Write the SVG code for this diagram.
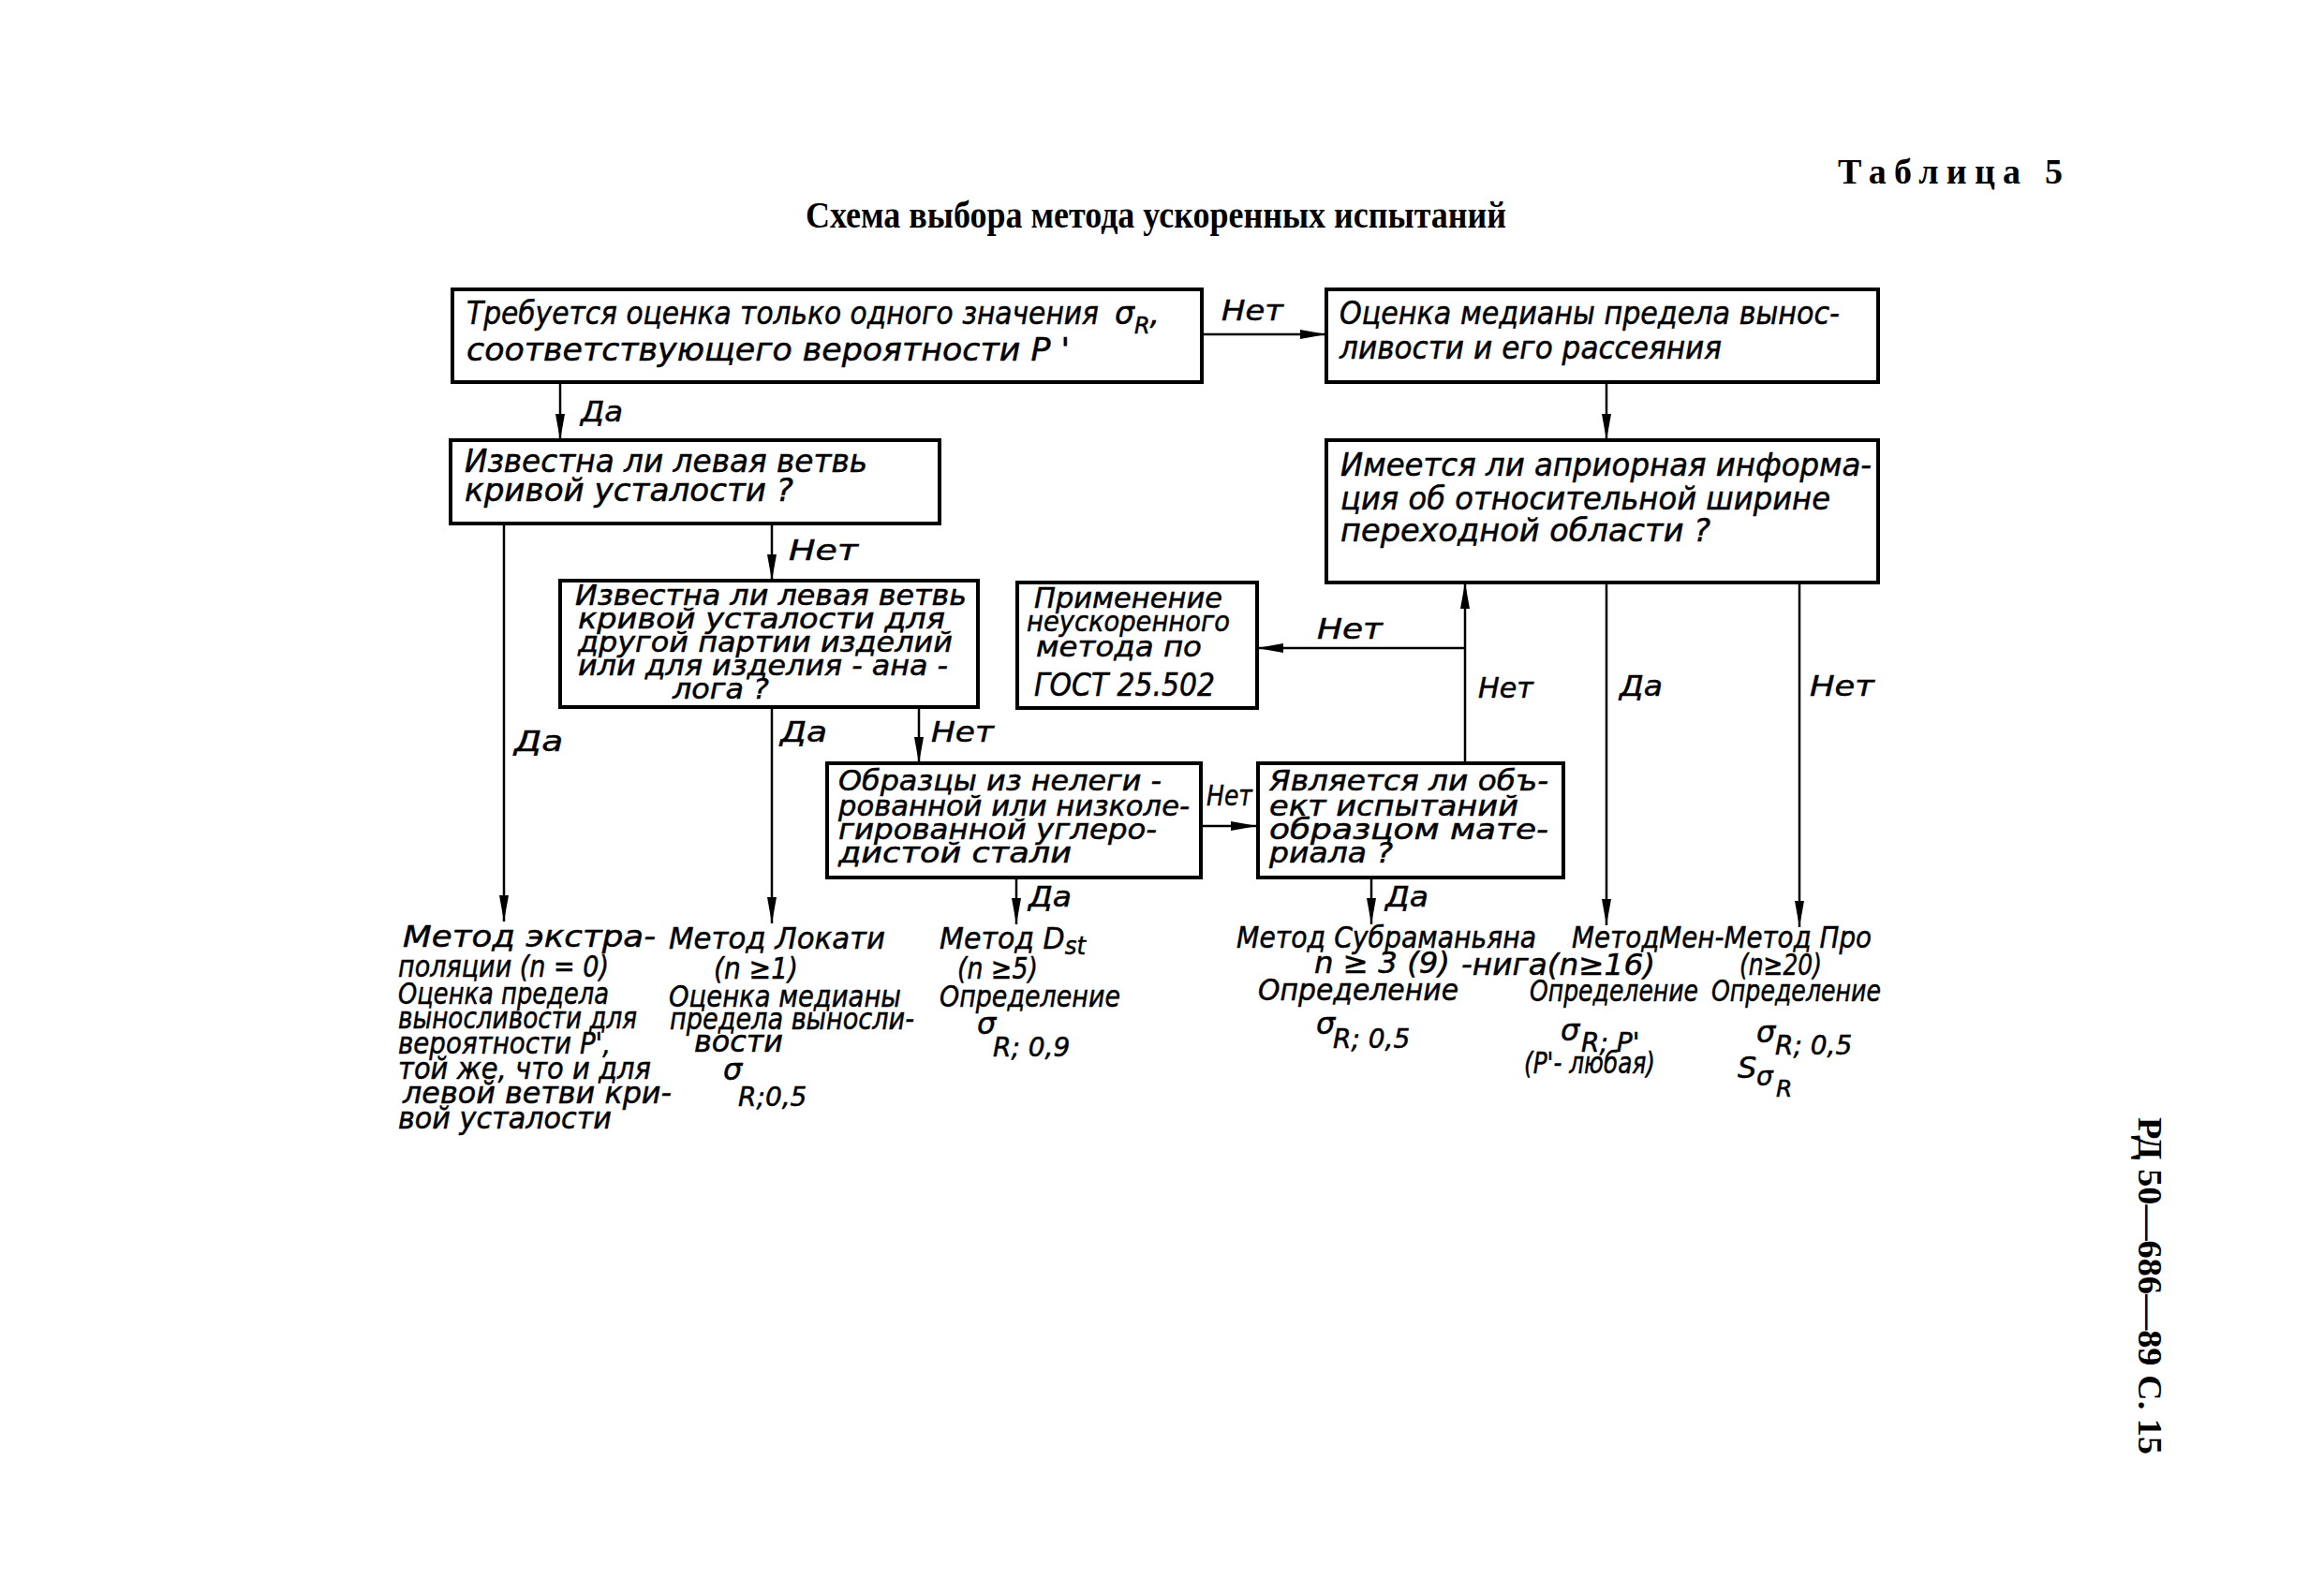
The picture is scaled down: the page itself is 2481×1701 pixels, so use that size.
<svg xmlns="http://www.w3.org/2000/svg" width="2481" height="1701" viewBox="0 0 2481 1701">
<style>
.box{fill:none;stroke:#000;stroke-width:4}
.ln{fill:none;stroke:#000;stroke-width:2.5}
.t{font-family:"DejaVu Sans","Liberation Sans",sans-serif;font-style:italic;fill:#000;stroke:#000;stroke-width:0.5;font-size:33px}
.m{font-size:30px}
.b{font-size:32px}
.sub{font-size:28px}
.lb{font-family:"DejaVu Sans","Liberation Sans",sans-serif;font-style:italic;fill:#000;stroke:#000;stroke-width:0.5;font-size:31px}
.hd{font-family:"Liberation Serif",serif;font-weight:bold;fill:#000}
</style>
<defs>
<marker id="ar" markerUnits="userSpaceOnUse" markerWidth="30" markerHeight="12" refX="28" refY="5" orient="auto">
<path d="M0,0 L28,5 L0,10 z" fill="#000"/>
</marker>
</defs>
<rect width="2481" height="1701" fill="#fff"/>
<text class="hd" x="1962" y="196" font-size="38" textLength="240" lengthAdjust="spacing">Таблица 5</text>
<text class="hd" x="860" y="243" font-size="40" textLength="748" lengthAdjust="spacingAndGlyphs">Схема выбора метода ускоренных испытаний</text>
<text class="hd" font-size="36" transform="translate(2283,1193) rotate(90)" textLength="360" lengthAdjust="spacingAndGlyphs">РД 50—686—89 С. 15</text>

<g id="connectors">
<line class="ln" x1="1283" y1="357" x2="1416" y2="357" marker-end="url(#ar)"/>
<line class="ln" x1="598" y1="408" x2="598" y2="470" marker-end="url(#ar)"/>
<line class="ln" x1="1715" y1="408" x2="1715" y2="470" marker-end="url(#ar)"/>
<line class="ln" x1="824" y1="559" x2="824" y2="620" marker-end="url(#ar)"/>
<line class="ln" x1="538" y1="559" x2="538" y2="984" marker-end="url(#ar)"/>
<line class="ln" x1="824" y1="755" x2="824" y2="986" marker-end="url(#ar)"/>
<line class="ln" x1="981" y1="755" x2="981" y2="815" marker-end="url(#ar)"/>
<line class="ln" x1="1282" y1="882" x2="1342" y2="882" marker-end="url(#ar)"/>
<line class="ln" x1="1564" y1="815" x2="1564" y2="622" marker-end="url(#ar)"/>
<line class="ln" x1="1564" y1="692" x2="1342" y2="692" marker-end="url(#ar)"/>
<line class="ln" x1="1085" y1="937" x2="1085" y2="987" marker-end="url(#ar)"/>
<line class="ln" x1="1464" y1="937" x2="1464" y2="987" marker-end="url(#ar)"/>
<line class="ln" x1="1715" y1="622" x2="1715" y2="988" marker-end="url(#ar)"/>
<line class="ln" x1="1921" y1="622" x2="1921" y2="990" marker-end="url(#ar)"/>
<text class="lb" x="1304" y="342" textLength="66" lengthAdjust="spacingAndGlyphs">Нет</text>
<text class="lb" x="620" y="450" textLength="45" lengthAdjust="spacingAndGlyphs">Да</text>
<text class="lb" x="842" y="598" textLength="74" lengthAdjust="spacingAndGlyphs">Нет</text>
<text class="lb" x="549" y="802" textLength="52" lengthAdjust="spacingAndGlyphs">Да</text>
<text class="lb" x="833" y="792" textLength="50" lengthAdjust="spacingAndGlyphs">Да</text>
<text class="lb" x="994" y="792" textLength="67" lengthAdjust="spacingAndGlyphs">Нет</text>
<text class="lb" x="1406" y="682" textLength="70" lengthAdjust="spacingAndGlyphs">Нет</text>
<text class="lb" x="1578" y="745" textLength="59" lengthAdjust="spacingAndGlyphs">Нет</text>
<text class="lb" x="1729" y="743" textLength="46" lengthAdjust="spacingAndGlyphs">Да</text>
<text class="lb" x="1932" y="743" textLength="69" lengthAdjust="spacingAndGlyphs">Нет</text>
<text class="lb" x="1098" y="968" textLength="46" lengthAdjust="spacingAndGlyphs">Да</text>
<text class="lb" x="1479" y="968" textLength="46" lengthAdjust="spacingAndGlyphs">Да</text>
<text class="lb" x="1288" y="860" font-size="25" textLength="49" lengthAdjust="spacingAndGlyphs">Нет</text>
</g>

<g id="n1">
<rect class="box" x="483" y="309" width="800" height="99"/>
<text class="t" x="498" y="346" textLength="675" lengthAdjust="spacingAndGlyphs">Требуется оценка только одного значения</text>
<text class="t" x="1190" y="346">σ<tspan dy="10" font-size="24">R</tspan><tspan dy="-10">,</tspan></text>
<text class="t" x="498" y="385" textLength="644" lengthAdjust="spacingAndGlyphs">соответствующего вероятности P '</text>
</g>
<g id="n2">
<rect class="box" x="1416" y="309" width="589" height="99"/>
<text class="t" x="1430" y="346" textLength="534" lengthAdjust="spacingAndGlyphs">Оценка медианы предела вынос-</text>
<text class="t" x="1430" y="383" textLength="408" lengthAdjust="spacingAndGlyphs">ливости и его рассеяния</text>
</g>
<g id="n3">
<rect class="box" x="481" y="470" width="522" height="89"/>
<text class="t" x="496" y="504" textLength="430" lengthAdjust="spacingAndGlyphs">Известна ли левая ветвь</text>
<text class="t" x="496" y="535" textLength="351" lengthAdjust="spacingAndGlyphs">кривой усталости ?</text>
</g>
<g id="n4">
<rect class="box" x="1416" y="470" width="589" height="152"/>
<text class="t" x="1431" y="508" textLength="567" lengthAdjust="spacingAndGlyphs">Имеется ли априорная информа-</text>
<text class="t" x="1431" y="544" textLength="523" lengthAdjust="spacingAndGlyphs">ция об относительной ширине</text>
<text class="t" x="1431" y="578" textLength="395" lengthAdjust="spacingAndGlyphs">переходной области ?</text>
</g>
<g id="n5">
<rect class="box" x="598" y="620" width="446" height="135"/>
<text class="t m" x="614" y="646" textLength="418" lengthAdjust="spacingAndGlyphs">Известна ли левая ветвь</text>
<text class="t m" x="617" y="671" textLength="392" lengthAdjust="spacingAndGlyphs">кривой усталости для</text>
<text class="t m" x="617" y="696" textLength="400" lengthAdjust="spacingAndGlyphs">другой партии изделий</text>
<text class="t m" x="617" y="721" textLength="395" lengthAdjust="spacingAndGlyphs">или для изделия - ана -</text>
<text class="t m" x="718" y="746" textLength="103" lengthAdjust="spacingAndGlyphs">лога ?</text>
</g>
<g id="n6">
<rect class="box" x="1086" y="622" width="256" height="134"/>
<text class="t m" x="1104" y="649" textLength="201" lengthAdjust="spacingAndGlyphs">Применение</text>
<text class="t m" x="1096" y="674" textLength="217" lengthAdjust="spacingAndGlyphs">неускоренного</text>
<text class="t m" x="1106" y="701" textLength="177" lengthAdjust="spacingAndGlyphs">метода по</text>
<text class="t" x="1104" y="743" textLength="193" lengthAdjust="spacingAndGlyphs">ГОСТ 25.502</text>
</g>
<g id="n7">
<rect class="box" x="883" y="815" width="399" height="122"/>
<text class="t m" x="895" y="844" textLength="345" lengthAdjust="spacingAndGlyphs">Образцы из нелеги -</text>
<text class="t m" x="895" y="871" textLength="375" lengthAdjust="spacingAndGlyphs">рованной или низколе-</text>
<text class="t m" x="895" y="896" textLength="340" lengthAdjust="spacingAndGlyphs">гированной углеро-</text>
<text class="t m" x="895" y="921" textLength="249" lengthAdjust="spacingAndGlyphs">дистой стали</text>
</g>
<g id="n8">
<rect class="box" x="1343" y="815" width="326" height="122"/>
<text class="t m" x="1355" y="844" textLength="298" lengthAdjust="spacingAndGlyphs">Является ли объ-</text>
<text class="t m" x="1355" y="871" textLength="266" lengthAdjust="spacingAndGlyphs">ект испытаний</text>
<text class="t m" x="1355" y="896" textLength="298" lengthAdjust="spacingAndGlyphs">образцом мате-</text>
<text class="t m" x="1355" y="921" textLength="132" lengthAdjust="spacingAndGlyphs">риала ?</text>
</g>

<g id="r1">
<text class="t b" x="430" y="1011" textLength="270" lengthAdjust="spacingAndGlyphs">Метод экстра-</text>
<text class="t b" x="425" y="1043" textLength="225" lengthAdjust="spacingAndGlyphs">поляции (n = 0)</text>
<text class="t b" x="425" y="1072" textLength="225" lengthAdjust="spacingAndGlyphs">Оценка предела</text>
<text class="t b" x="425" y="1098" textLength="255" lengthAdjust="spacingAndGlyphs">выносливости для</text>
<text class="t b" x="425" y="1125" textLength="227" lengthAdjust="spacingAndGlyphs">вероятности P',</text>
<text class="t b" x="425" y="1152" textLength="270" lengthAdjust="spacingAndGlyphs">той же, что и для</text>
<text class="t b" x="430" y="1178" textLength="287" lengthAdjust="spacingAndGlyphs">левой ветви кри-</text>
<text class="t b" x="425" y="1205" textLength="228" lengthAdjust="spacingAndGlyphs">вой усталости</text>
</g>
<g id="r2">
<text class="t b" x="714" y="1013" textLength="231" lengthAdjust="spacingAndGlyphs">Метод Локати</text>
<text class="t b" x="762" y="1045" textLength="90" lengthAdjust="spacingAndGlyphs">(n ≥1)</text>
<text class="t b" x="714" y="1075" textLength="248" lengthAdjust="spacingAndGlyphs">Оценка медианы</text>
<text class="t b" x="715" y="1099" textLength="261" lengthAdjust="spacingAndGlyphs">предела выносли-</text>
<text class="t b" x="741" y="1123" textLength="95" lengthAdjust="spacingAndGlyphs">вости</text>
<text class="t b" x="772" y="1153">σ<tspan class="sub" x="788" dy="28">R;0,5</tspan></text>
</g>
<g id="r3">
<text class="t b" x="1003" y="1013" textLength="156" lengthAdjust="spacingAndGlyphs">Метод D<tspan dy="6" font-size="26">st</tspan></text>
<text class="t b" x="1022" y="1045" textLength="86" lengthAdjust="spacingAndGlyphs">(n ≥5)</text>
<text class="t b" x="1003" y="1075" textLength="193" lengthAdjust="spacingAndGlyphs">Определение</text>
<text class="t b" x="1043" y="1104">σ<tspan class="sub" x="1060" dy="24">R; 0,9</tspan></text>
</g>
<g id="r4">
<text class="t b" x="1320" y="1012" textLength="320" lengthAdjust="spacingAndGlyphs">Метод Субраманьяна</text>
<text class="t b" x="1403" y="1039" textLength="145" lengthAdjust="spacingAndGlyphs">n ≥ 3 (9)</text>
<text class="t b" x="1343" y="1068" textLength="214" lengthAdjust="spacingAndGlyphs">Определение</text>
<text class="t b" x="1405" y="1104">σ<tspan class="sub" x="1423" dy="15">R; 0,5</tspan></text>
</g>
<g id="r5">
<text class="t b" x="1678" y="1012" textLength="320" lengthAdjust="spacingAndGlyphs">МетодМен-Метод Про</text>
<text class="t b" x="1560" y="1041" textLength="207" lengthAdjust="spacingAndGlyphs">-нига(n≥16)</text>
<text class="t b" x="1633" y="1069" textLength="180" lengthAdjust="spacingAndGlyphs">Определение</text>
<text class="t b" x="1666" y="1111">σ<tspan class="sub" x="1688" dy="12">R; P'</tspan></text>
<text class="t b" x="1627" y="1146" textLength="140" lengthAdjust="spacingAndGlyphs">(P'- любая)</text>
</g>
<g id="r6">
<text class="t b" x="1857" y="1041" textLength="88" lengthAdjust="spacingAndGlyphs">(n≥20)</text>
<text class="t b" x="1827" y="1069" textLength="181" lengthAdjust="spacingAndGlyphs">Определение</text>
<text class="t b" x="1875" y="1113">σ<tspan class="sub" x="1895" dy="13">R; 0,5</tspan></text>
<text class="t b" x="1855" y="1151">S<tspan x="1875" dy="8" font-size="28">σ</tspan><tspan x="1896" dy="12" font-size="25">R</tspan></text>
</g>
</svg>
